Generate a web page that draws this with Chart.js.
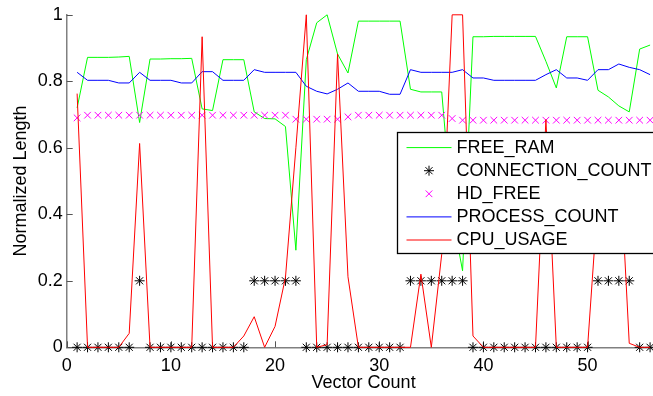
<!DOCTYPE html>
<html>
<head>
<meta charset="utf-8">
<script src="https://cdn.jsdelivr.net/npm/chart.js@4/dist/chart.umd.min.js"></script>
<style>
  html, body { margin: 0; padding: 0; background: #fff; overflow: hidden; }
  canvas { display: block; }
</style>
</head>
<body>
<canvas id="c" width="680" height="396"></canvas>
<script>
// ---- data ----
const vectorCount = [1,2,3,4,5,6,7,8,9,10,11,12,13,14,15,16,17,18,19,20,21,22,23,24,25,26,27,28,29,30,31,32,33,34,35,36,37,38,39,40,41,42,43,44,45,46,47,48,49,50,51,52,53,54,55,56];
const freeRam = [0.72,0.872,0.872,0.872,0.873,0.875,0.676,0.867,0.867,0.868,0.868,0.869,0.717,0.712,0.865,0.865,0.865,0.708,0.688,0.687,0.664,0.292,0.865,0.976,1.0,0.882,0.825,0.981,0.981,0.981,0.981,0.981,0.776,0.768,0.768,0.768,0.40,0.23,0.934,0.934,0.935,0.935,0.935,0.935,0.935,0.86,0.78,0.934,0.934,0.934,0.773,0.753,0.726,0.708,0.897,0.909];
const connectionCount = [0,0,0,0,0,0,0.2,0,0,0,0,0,0,0,0,0,0,0.2,0.2,0.2,0.2,0.2,0,0,0,0,0,0,0,0,0,0,0.2,0.2,0.2,0.2,0.2,0.2,0,0,0,0,0,0,0,0,0,0,0,0,0.2,0.2,0.2,0.2,0,0];
const hdFree = [0.69,0.698,0.698,0.698,0.698,0.698,0.698,0.698,0.698,0.698,0.698,0.698,0.698,0.698,0.698,0.698,0.698,0.698,0.698,0.698,0.698,0.686,0.686,0.686,0.686,0.686,0.693,0.698,0.698,0.698,0.698,0.698,0.698,0.698,0.698,0.698,0.688,0.683,0.683,0.683,0.683,0.683,0.683,0.683,0.683,0.683,0.683,0.683,0.683,0.683,0.683,0.683,0.683,0.683,0.683,0.683];
const processCount = [0.827,0.803,0.803,0.803,0.795,0.795,0.827,0.803,0.803,0.803,0.795,0.795,0.829,0.829,0.803,0.803,0.803,0.835,0.827,0.827,0.827,0.827,0.785,0.77,0.762,0.776,0.795,0.77,0.77,0.77,0.761,0.761,0.835,0.827,0.827,0.827,0.827,0.835,0.81,0.81,0.803,0.803,0.803,0.803,0.803,0.82,0.835,0.81,0.81,0.803,0.835,0.835,0.852,0.842,0.835,0.82];
const cpuUsage = [0.763,0,0,0,0,0.042,0.613,0,0,0,0,0,0.934,0,0,0,0.034,0.092,0,0.063,0.21,0.6,1.0,0,0.008,0.882,0.212,0,0,0,0,0,0,0.22,0,0.28,1.0,1.0,0.034,0,0,0,0,0,0,0.685,0,0,0,0,0.45,0.55,0.62,0.012,0,0];
const seriesNames = ['FREE_RAM','CONNECTION_COUNT','HD_FREE','PROCESS_COUNT','CPU_USAGE'];
const xTicks = [0,10,20,30,40,50];
const yTicks = [0,0.2,0.4,0.6,0.8,1];
const xTitle = 'Vector Count';
const yTitle = 'Normalized Length';

const pts = arr => arr.map((v, i) => ({x: vectorCount[i], y: v}));

Chart.defaults.font.family = '"Liberation Sans", Arial, sans-serif';
Chart.defaults.font.size = 18;
Chart.defaults.color = '#000';

const AXIS_COLOR = '#808080';

const innerTicks = {
  id: 'innerTicks',
  beforeDatasetsDraw(chart) {
    const {ctx, chartArea, scales} = chart;
    ctx.save();
    ctx.strokeStyle = '#555';
    ctx.lineWidth = 1;
    ctx.beginPath();
    scales.y.ticks.forEach(t => {
      const y = Math.round(scales.y.getPixelForValue(t.value)) + 0.5;
      ctx.moveTo(chartArea.left, y);
      ctx.lineTo(chartArea.left + 6, y);
    });
    scales.x.ticks.forEach(t => {
      const x = Math.round(scales.x.getPixelForValue(t.value)) + 0.5;
      ctx.moveTo(x, chartArea.bottom);
      ctx.lineTo(x, chartArea.bottom - 6);
    });
    ctx.stroke();
    ctx.restore();
  }
};

const boxLegend = {
  id: 'boxLegend',
  afterDatasetsDraw(chart, args, opts) {
    const {ctx} = chart;
    const L = opts.left, T = opts.top, R = opts.right, B = opts.bottom;
    ctx.save();
    ctx.fillStyle = '#fff';
    ctx.fillRect(L, T, R - L, B - T);
    ctx.strokeStyle = '#000';
    ctx.lineWidth = 1.3;
    ctx.strokeRect(L, T, R - L, B - T);
    ctx.font = '18px "Liberation Sans", Arial, sans-serif';
    ctx.textBaseline = 'middle';
    ctx.textAlign = 'left';
    opts.order.forEach((dsIndex, row) => {
      const ds = chart.data.datasets[dsIndex];
      const y = opts.firstRow + row * opts.rowGap;
      const cx = (opts.sampleX0 + opts.sampleX1) / 2;
      if (ds.showLine === false) {
        ctx.save();
        ctx.strokeStyle = ds.borderColor;
        ctx.fillStyle = ds.borderColor;
        ctx.lineWidth = 1;
        Chart.helpers.drawPoint(ctx, {
          pointStyle: ds.pointStyle, radius: ds.pointRadius, borderWidth: 1, rotation: 0
        }, cx, y);
        ctx.restore();
      } else {
        ctx.strokeStyle = ds.borderColor;
        ctx.lineWidth = 1;
        ctx.beginPath();
        ctx.moveTo(opts.sampleX0, y);
        ctx.lineTo(opts.sampleX1, y);
        ctx.stroke();
      }
      ctx.fillStyle = '#000';
      ctx.fillText(ds.label, opts.textX, y);
    });
    ctx.restore();
  }
};

new Chart(document.getElementById('c'), {
  type: 'line',
  data: {
    datasets: [
      {label: seriesNames[0], data: pts(freeRam), borderColor: '#00ff00', borderWidth: 1, pointRadius: 0, order: 5, clip: false},
      {label: seriesNames[1], data: pts(connectionCount), showLine: false, pointStyle: 'star', pointRadius: 5, pointBorderWidth: 1, borderColor: '#000', pointBorderColor: '#000', backgroundColor: '#000', order: 4, clip: false},
      {label: seriesNames[2], data: pts(hdFree), showLine: false, pointStyle: 'crossRot', pointRadius: 4.7, pointBorderWidth: 1, borderColor: '#ff00ff', pointBorderColor: '#ff00ff', backgroundColor: '#ff00ff', order: 3, clip: false},
      {label: seriesNames[3], data: pts(processCount), borderColor: '#0000ff', borderWidth: 1, pointRadius: 0, order: 2, clip: false},
      {label: seriesNames[4], data: pts(cpuUsage), borderColor: '#ff0000', borderWidth: 1, pointRadius: 0, order: 1, clip: false}
    ]
  },
  options: {
    responsive: false,
    animation: false,
    devicePixelRatio: 1,
    elements: { line: { tension: 0 }, point: { hoverRadius: 0 } },
    layout: { padding: { left: 0, right: 19.5, top: 11, bottom: 0 } },
    plugins: {
      legend: { display: false },
      tooltip: { enabled: false },
      boxLegend: {
        left: 397.5, top: 132.5, right: 658, bottom: 253.5,
        sampleX0: 406.5, sampleX1: 451.5, textX: 456.5,
        firstRow: 147.6, rowGap: 23.1,
        order: [0, 1, 2, 3, 4]
      }
    },
    scales: {
      x: {
        type: 'linear', min: 0, max: 57,
        grid: { display: false, drawTicks: false },
        border: { display: true, color: AXIS_COLOR, width: 1.5 },
        afterBuildTicks: s => { s.ticks = xTicks.map(v => ({value: v})); },
        afterFit: s => { s.height = 48.7; },
        ticks: { padding: 8, maxRotation: 0, autoSkip: false, callback: v => String(v) },
        title: { display: true, text: xTitle, padding: { top: 0, bottom: 2.5 } }
      },
      y: {
        type: 'linear', min: 0, max: 1,
        grid: { display: false, drawTicks: false },
        border: { display: true, color: AXIS_COLOR, width: 1.5 },
        afterBuildTicks: s => { s.ticks = yTicks.map(v => ({value: v})); },
        afterFit: s => { s.width = 66.7; },
        ticks: { padding: 4, autoSkip: false, callback: v => String(v) },
        title: { display: true, text: yTitle, padding: { top: 10, bottom: 0 } }
      }
    }
  },
  plugins: [innerTicks, boxLegend]
});
</script>
</body>
</html>
